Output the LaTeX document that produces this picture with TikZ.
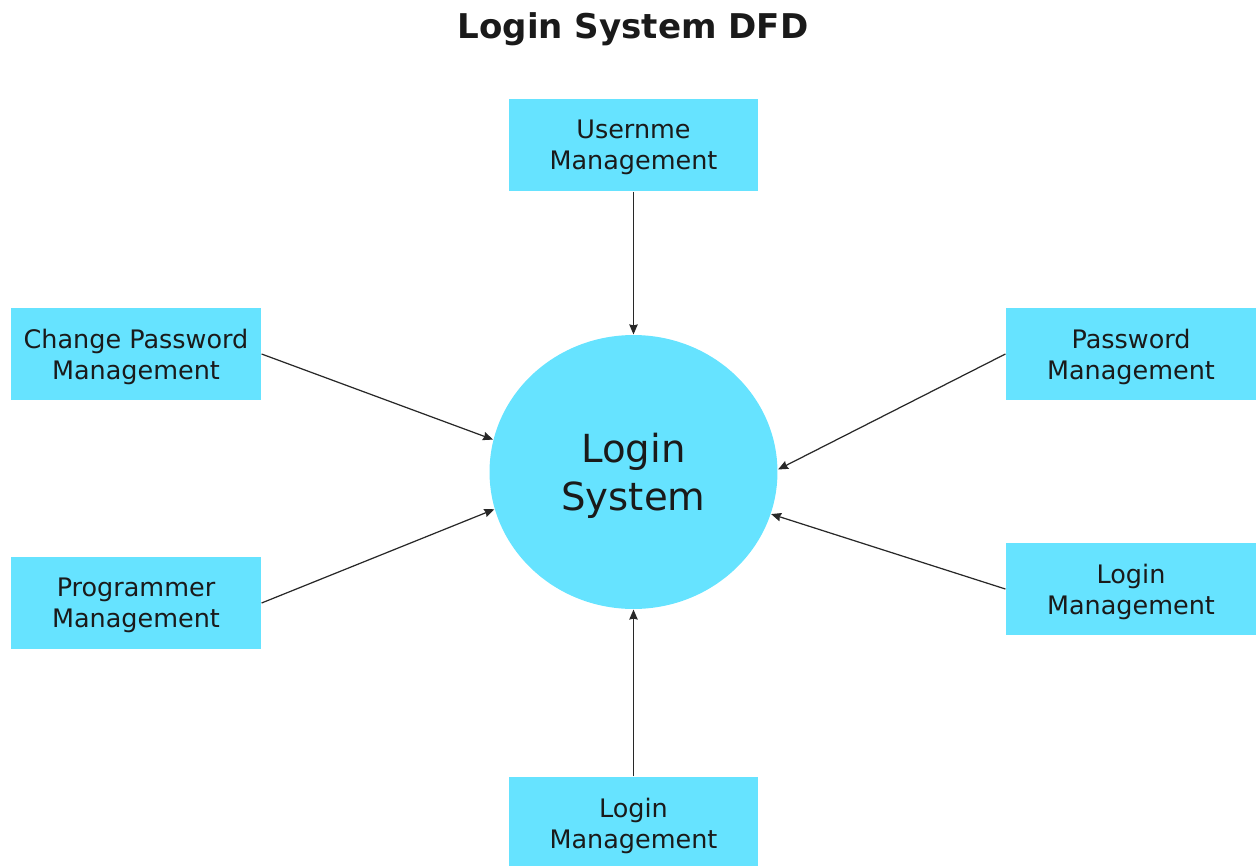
\documentclass[tikz,border=0pt]{standalone}
\usepackage{fontspec}
\setmainfont{DejaVu Sans}
\usepackage{tikz}
\usetikzlibrary{shapes,arrows.meta,positioning}
\definecolor{dfdcyan}{RGB}{102,227,255}
\definecolor{dfdtext}{RGB}{26,26,26}
\definecolor{dfdline}{RGB}{40,40,40}

\begin{document}
\begin{tikzpicture}[x=0.02cm, y=-0.02cm, >={Stealth[length=2mm,width=1.7mm,inset=0.2mm]}, line width=0.7pt]
  \tikzstyle{entity} = [rectangle, fill=dfdcyan, text=dfdtext, align=center, minimum width=5cm, minimum height=1.84cm, inner sep=0pt, text depth=0pt, font=\fontsize{14.5}{17.8}\selectfont]
  \tikzstyle{process} = [ellipse, fill=dfdcyan, text=dfdtext, align=center, minimum width=5.76cm, minimum height=5.48cm, inner sep=0pt, text depth=0pt, font=\fontsize{22}{27}\selectfont]
  \tikzstyle{flow} = [->, draw=dfdline]

  \useasboundingbox (0,0) rectangle (1259,866);

  % title
  \node[font=\fontsize{19.4}{22}\selectfont\bfseries, text=dfdtext] (title) at (633,29) {Login System DFD};

  % central process
  \node[process] (sys) at (633.5,472) {Login\\ System};

  % external entities
  \node[entity] (user) at (633.5,145) {Usernme\\ Management};
  \node[entity] (chpw) at (136,354) {Change Password\\ Management};
  \node[entity] (prog) at (136,603) {Programmer\\ Management};
  \node[entity] (pass) at (1131,354) {Password\\ Management};
  \node[entity] (logr) at (1131,589) {Login\\ Management};
  \node[entity] (logb) at (633.5,823) {Login\\ Management};

  % data flows
  \draw[flow] (user) -- (sys.north);
  \draw[flow] (chpw.east) -- (sys.167);
  \draw[flow] (prog.east) -- (sys.195);
  \draw[flow] (pass.west) -- (sys.1);
  \draw[flow] (logr.west) -- (sys.343);
  \draw[flow] (logb) -- (sys.south);
\end{tikzpicture}
\end{document}
